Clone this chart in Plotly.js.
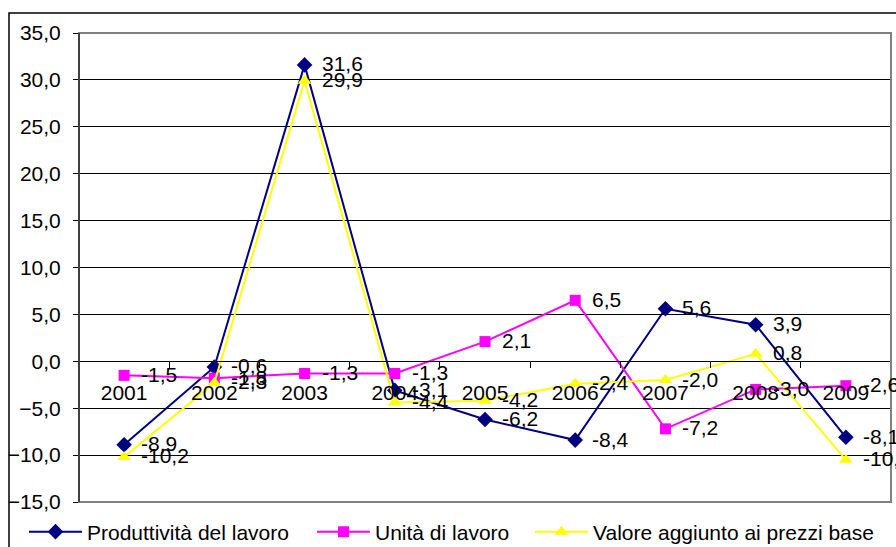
<!DOCTYPE html>
<html>
<head>
<meta charset="utf-8">
<script src="https://cdn.plot.ly/plotly-3.0.1.min.js"></script>
<style>
html,body{margin:0;padding:0;background:#fff;}
#chart{width:896px;height:547px;}
</style>
</head>
<body>
<div id="chart"></div>
<script>
const years = ['2001','2002','2003','2004','2005','2006','2007','2008','2009'];
const produttivita = [-8.9, -0.6, 31.6, -3.1, -6.2, -8.4, 5.6, 3.9, -8.1];
const unita = [-1.5, -1.8, -1.3, -1.3, 2.1, 6.5, -7.2, -3.0, -2.6];
const valoreAggiunto = [-10.2, -2.3, 29.9, -4.4, -4.2, -2.4, -2.0, 0.8, -10.5];
const seriesNames = ['Produttività del lavoro', 'Unità di lavoro', 'Valore aggiunto ai prezzi base'];

const FONT = '"Liberation Sans", Arial, sans-serif';
const FS = 21;
const fmt = v => v.toFixed(1).replace('.', ',');

const specs = [
  {y: produttivita, name: seriesNames[0], color: '#000080', symbol: 'diamond', size: 12, legend: 'legend'},
  {y: unita, name: seriesNames[1], color: '#FF00FF', symbol: 'square', size: 11, legend: 'legend2'},
  {y: valoreAggiunto, name: seriesNames[2], color: '#FFFF00', symbol: 'triangle-up', size: 12, legend: 'legend3'}
];

const traces = specs.map(s => ({
  x: years, y: s.y, name: s.name, type: 'scatter', mode: 'lines+markers',
  legend: s.legend,
  line: {color: s.color, width: 2},
  marker: {color: s.color, symbol: s.symbol, size: s.size},
  cliponaxis: false, hoverinfo: 'skip'
}));

// data labels: x given as the category index on the category axis
const annotations = [];
specs.forEach(s => {
  s.y.forEach((v, i) => {
    annotations.push({
      x: i, y: v, xref: 'x', yref: 'y', text: fmt(v), showarrow: false,
      xanchor: 'left', yanchor: 'middle', xshift: 15, yshift: 1,
      font: {family: FONT, size: FS, color: '#000'}
    });
  });
});

const L = 79, R = 5, T = 33, B = 45, W = 896, H = 547;
const pw = W - L - R, ph = H - T - B;
const px = p => (p - L) / pw;
const py = p => (H - B - p) / ph;

const legendBase = {
  orientation: 'h', xref: 'container', yref: 'container',
  y: (H - 532) / H, yanchor: 'middle', xanchor: 'left',
  font: {family: FONT, size: FS, color: '#000'}, bgcolor: 'rgba(0,0,0,0)',
  itemwidth: 53, borderwidth: 0
};

const layout = {
  width: W, height: H,
  margin: {l: L, r: R, t: T, b: B, pad: 0},
  paper_bgcolor: '#fff', plot_bgcolor: '#fff',
  font: {family: FONT, size: FS, color: '#000'},
  separators: ',.',
  showlegend: true,
  legend: Object.assign({}, legendBase, {x: 24 / W}),
  legend2: Object.assign({}, legendBase, {x: 312 / W}),
  legend3: Object.assign({}, legendBase, {x: 530 / W}),
  xaxis: {
    type: 'category', range: [-0.5, 8.5], anchor: 'free', position: 0.3,
    showline: true, linecolor: '#000', linewidth: 1,
    ticks: 'outside', tickson: 'boundaries', ticklen: 6, tickcolor: '#000',
    showgrid: false, zeroline: false,
    tickfont: {family: FONT, size: FS, color: '#000'}, ticklabelstandoff: 12
  },
  yaxis: {
    range: [-15, 35], dtick: 5, tick0: 0, tickformat: '.1f',
    showgrid: true, gridcolor: '#000', gridwidth: 1,
    zeroline: false, showline: false,
    ticks: 'outside', ticklen: 5, tickcolor: '#000',
    tickfont: {family: FONT, size: FS, color: '#000'}, ticklabelstandoff: 8
  },
  annotations: annotations,
  shapes: [
    {type: 'rect', xref: 'paper', yref: 'paper', x0: px(9), x1: px(905), y0: py(13), y1: py(560),
     line: {color: '#000', width: 1.5}, layer: 'above'},
    {type: 'rect', xref: 'paper', yref: 'paper', x0: 0, x1: 1, y0: 0, y1: 1,
     line: {color: '#808080', width: 2}, layer: 'above'},
    {type: 'line', xref: 'paper', yref: 'paper', x0: 0, x1: 0, y0: 0, y1: 1,
     line: {color: '#000', width: 1}, layer: 'above'}
  ]
};

Plotly.newPlot('chart', traces, layout, {displayModeBar: false, staticPlot: true});
</script>
</body>
</html>
